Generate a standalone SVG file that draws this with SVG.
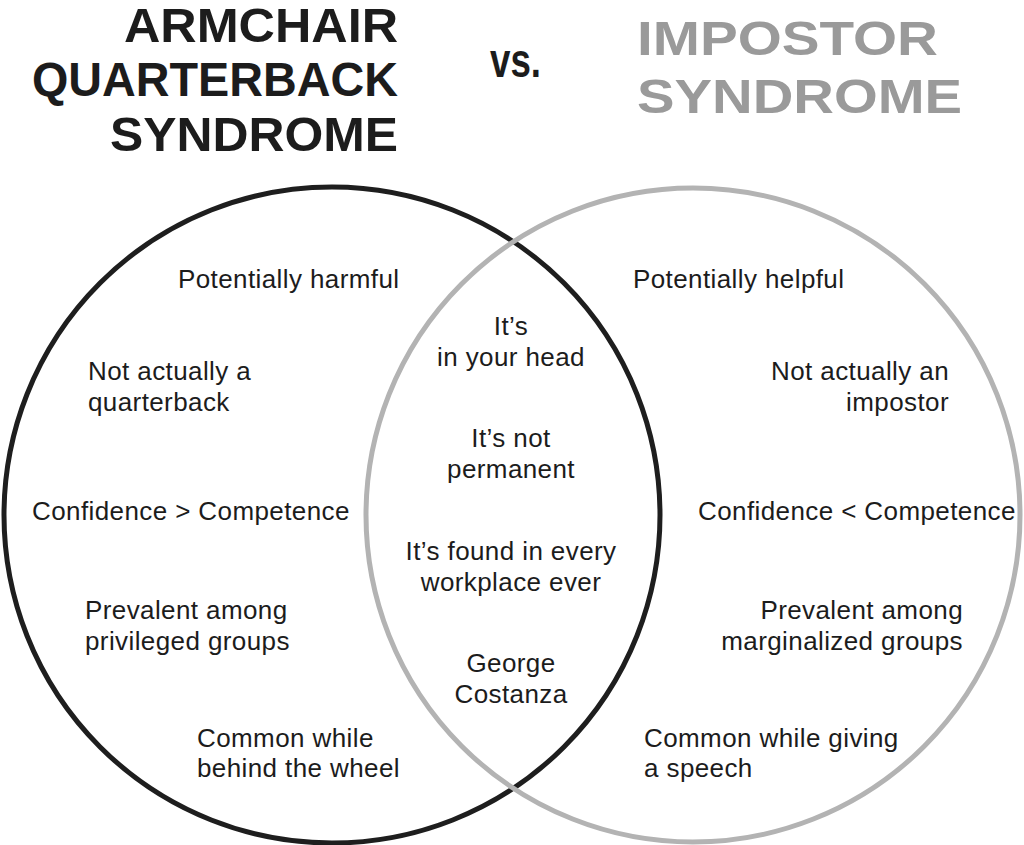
<svg xmlns="http://www.w3.org/2000/svg" width="1024" height="845" viewBox="0 0 1024 845">
<style>
.t{font-family:"Liberation Sans",Arial,sans-serif;font-size:26px;letter-spacing:0.4px;fill:#1c1c1c}
.m{text-anchor:middle}
.e{text-anchor:end}
.h{font-family:"Liberation Sans",Arial,sans-serif;font-weight:bold;font-size:48px}
.hb{fill:#1c1c1c}
.hg{fill:#9a9a9a}
.c{fill:none;stroke-width:5}
</style>
<rect width="1024" height="845" fill="#ffffff"/>
<g id="title-left">
<text class="h hb" x="124" y="42" font-size="46" textLength="274" lengthAdjust="spacingAndGlyphs">ARMCHAIR</text>
<text class="h hb" x="32" y="96" textLength="366" lengthAdjust="spacingAndGlyphs">QUARTERBACK</text>
<text class="h hb" x="110" y="151" textLength="288" lengthAdjust="spacingAndGlyphs">SYNDROME</text>
</g>
<g id="vs">
<text class="h hb" x="490" y="77" font-size="30" textLength="51" lengthAdjust="spacingAndGlyphs">vs.</text>
</g>
<g id="title-right">
<text class="h hg" x="637" y="55" textLength="301" lengthAdjust="spacingAndGlyphs">IMPOSTOR</text>
<text class="h hg" x="637" y="113" textLength="325" lengthAdjust="spacingAndGlyphs">SYNDROME</text>
</g>
<g id="circles">
<circle id="circle-armchair" class="c" cx="332" cy="515" r="328" stroke="#1e1e1e"/>
<circle id="circle-impostor" class="c" cx="693" cy="515" r="327" stroke="#b3b3b3"/>
</g>
<g id="left-items">
<text class="t" x="178" y="288">Potentially harmful</text>
<text class="t" x="88" y="380">Not actually a</text>
<text class="t" x="88" y="411">quarterback</text>
<text class="t" x="32" y="520">Confidence &gt; Competence</text>
<text class="t" x="85" y="619">Prevalent among</text>
<text class="t" x="85" y="650">privileged groups</text>
<text class="t" x="197" y="747">Common while</text>
<text class="t" x="197" y="777">behind the wheel</text>
</g>
<g id="shared-items">
<text class="t m" x="511" y="335">It’s</text>
<text class="t m" x="511" y="366">in your head</text>
<text class="t m" x="511" y="447">It’s not</text>
<text class="t m" x="511" y="478">permanent</text>
<text class="t m" x="511" y="560">It’s found in every</text>
<text class="t m" x="511" y="591">workplace ever</text>
<text class="t m" x="511" y="672">George</text>
<text class="t m" x="511" y="703">Costanza</text>
</g>
<g id="right-items">
<text class="t" x="633" y="288">Potentially helpful</text>
<text class="t e" x="949" y="380">Not actually an</text>
<text class="t e" x="949" y="411">impostor</text>
<text class="t" x="698" y="520" letter-spacing="0.2">Confidence &lt; Competence</text>
<text class="t e" x="963" y="619">Prevalent among</text>
<text class="t e" x="963" y="650">marginalized groups</text>
<text class="t" x="644" y="747">Common while giving</text>
<text class="t" x="644" y="777">a speech</text>
</g>
</svg>
